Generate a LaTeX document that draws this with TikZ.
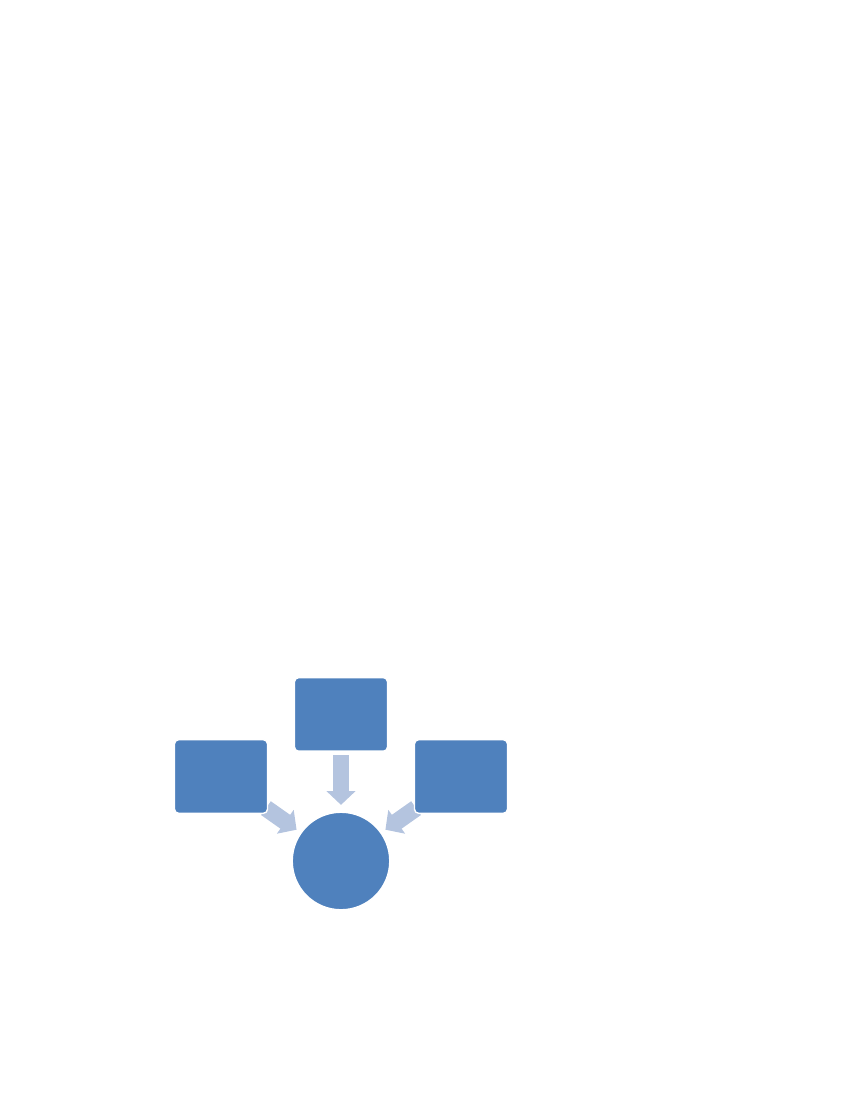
\documentclass[tikz,border=0pt]{standalone}
\usepackage{tikz}
\usetikzlibrary{arrows.meta}
\usetikzlibrary{backgrounds}
\definecolor{boxblue}{HTML}{4F81BD}
\definecolor{arrowblue}{HTML}{B4C4DF}
\tikzset{
	bluebox/.style={rectangle, rounded corners=3pt, draw=white, line width=1pt, fill=boxblue, minimum width=0.93in, minimum height=0.735in, inner sep=0pt},
	hubnode/.style={circle, draw=white, line width=1pt, fill=boxblue, minimum size=0.975in, inner sep=0pt},
	flowarrow/.style={arrowblue, line width=12.2pt, -{Triangle[width=20.5pt, length=10pt]}}
}
\begin{document}
\begin{tikzpicture}[x=0.01in, y=-0.01in]
			\useasboundingbox (0,0) rectangle (850,1100);
			
			\node[bluebox] (top) at (341,714.4) {};
			\node[bluebox] (left) at (221,776.5) {};
			\node[bluebox] (right) at (461,776.5) {};
			\node[hubnode] (hub) at (341,861) {};
			
			\begin{scope}[on background layer]
			\draw[flowarrow, shorten <=2.4pt, shorten >=4.8pt] (top) -- (hub);
			\draw[flowarrow, shorten <=-2pt, shorten >=3.5pt] (left) -- (hub);
			\draw[flowarrow, shorten <=-2pt, shorten >=3.5pt] (right) -- (hub);
			\end{scope}
		\end{tikzpicture}
\end{document}
